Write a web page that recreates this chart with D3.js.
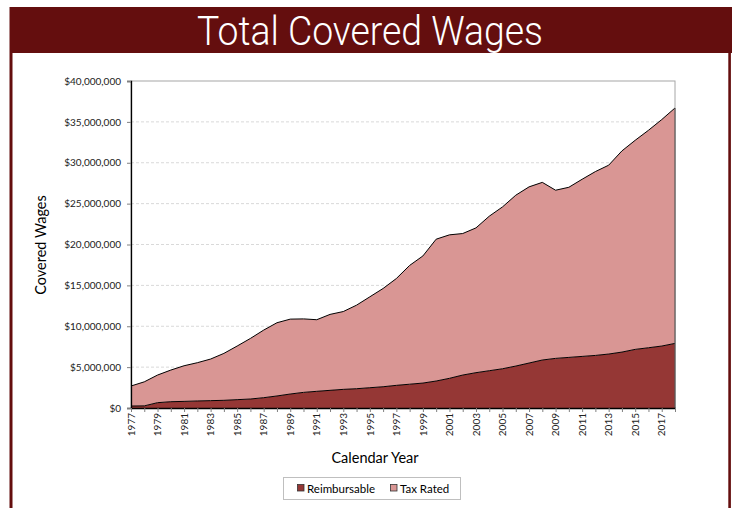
<!DOCTYPE html>
<html>
<head>
<meta charset="utf-8">
<script src="https://cdn.jsdelivr.net/npm/d3@7"></script>
<style>
  html, body { margin: 0; padding: 0; background: #fff; }
  svg { display: block; }
</style>
</head>
<body>
<svg id="chart" width="732" height="508"></svg>
<script>
const years = d3.range(1977, 2019);
const reimbursable = [0.24, 0.26, 0.65, 0.77, 0.81, 0.86, 0.90, 0.94, 1.02, 1.10,
  1.26, 1.47, 1.71, 1.91, 2.04, 2.16, 2.28, 2.36, 2.48, 2.60,
  2.77, 2.91, 3.05, 3.30, 3.63, 4.03, 4.32, 4.56, 4.80, 5.13,
  5.50, 5.87, 6.07, 6.19, 6.31, 6.43, 6.60, 6.84, 7.17, 7.37,
  7.58, 7.90].map(v => v * 1e6);
const totalWages = [2.69, 3.20, 4.03, 4.64, 5.17, 5.54, 5.99, 6.68, 7.58, 8.51,
  9.53, 10.43, 10.87, 10.90, 10.80, 11.45, 11.80, 12.58, 13.60, 14.62,
  15.84, 17.44, 18.60, 20.65, 21.18, 21.34, 22.03, 23.46, 24.60, 26.03,
  27.05, 27.60, 26.64, 27.00, 27.98, 28.92, 29.70, 31.45, 32.75, 33.97,
  35.28, 36.70].map(v => v * 1e6);
const taxRated = totalWages.map((t, i) => t - reimbursable[i]);
const yTicks = d3.range(0, 40000001, 5000000);
const seriesNames = ["Reimbursable", "Tax Rated"];
const seriesColors = ["#953735", "#D99694"];

const svg = d3.select("#chart");
const H = 508;
const font = "Lato, 'Open Sans', sans-serif";

// frame
svg.append("rect").attr("x", 10).attr("y", 7).attr("width", 722).attr("height", 46).attr("fill", "#640E0E");
svg.append("rect").attr("x", 9.5).attr("y", 7).attr("width", 3).attr("height", H).attr("fill", "#640E0E");
svg.append("rect").attr("x", 728.3).attr("y", 53).attr("width", 2.6).attr("height", H).attr("fill", "#640E0E");
svg.append("text").attr("x", 370).attr("y", 45).attr("text-anchor", "middle")
  .attr("fill", "#fff").attr("font-family", "Roboto, 'Open Sans', sans-serif").attr("font-weight", 300)
  .attr("font-size", 40)
  .attr("textLength", 346).attr("lengthAdjust", "spacingAndGlyphs")
  .text("Total Covered Wages");

const x0 = 131, x1 = 675, y0 = 408, y1 = 81;
const x = d3.scaleLinear().domain([1977, 2018]).range([x0, x1]);
const y = d3.scaleLinear().domain([0, 40000000]).range([y0, y1]);

// gridlines
svg.append("g").selectAll("line").data(yTicks.filter(t => t > 0 && t < 40000000)).join("line")
  .attr("x1", x0).attr("x2", x1).attr("y1", d => y(d)).attr("y2", d => y(d))
  .attr("stroke", "#d9d9d9").attr("stroke-width", 1).attr("stroke-dasharray", "3,2");

// plot border
svg.append("rect").attr("x", x0).attr("y", y1).attr("width", x1 - x0).attr("height", y0 - y1)
  .attr("fill", "none").attr("stroke", "#a6a6a6").attr("stroke-width", 1);

const data = years.map((yr, i) => ({ yr, r: reimbursable[i], t: taxRated[i] }));
const stack = d3.stack().keys(["r", "t"])(data);

const area = d3.area().x(d => x(d.data.yr)).y0(d => y(d[0])).y1(d => y(d[1]));
const topLine = d3.line().x(d => x(d.data.yr)).y(d => y(d[1]));

svg.append("g").selectAll("path").data(stack).join("path")
  .attr("d", area).attr("fill", (d, i) => seriesColors[i]);
svg.append("g").selectAll("path").data(stack).join("path")
  .attr("d", topLine).attr("fill", "none").attr("stroke", "#000").attr("stroke-width", 1);
// right edge
svg.append("line").attr("x1", x1).attr("x2", x1).attr("y1", y(totalWages[totalWages.length - 1])).attr("y2", y0)
  .attr("stroke", "#595959").attr("stroke-width", 1.2);

// y axis
const yAxis = d3.axisLeft(y).tickValues(yTicks).tickSize(4).tickPadding(6)
  .tickFormat(d => "$" + d3.format(",")(d));
const gy = svg.append("g").attr("transform", `translate(${x0},0)`).call(yAxis);
gy.select(".domain").attr("stroke", "#000").attr("stroke-width", 1.3);
gy.selectAll(".tick line").attr("stroke", "#808080");
gy.selectAll(".tick text").attr("font-family", font).attr("font-size", 10).attr("fill", "#222");

// x axis
const xAxis = d3.axisBottom(x).tickValues(years).tickSize(4).tickSizeOuter(0)
  .tickFormat(d => (d % 2 === 1 ? String(d) : ""));
const gx = svg.append("g").attr("transform", `translate(0,${y0})`).call(xAxis);
gx.select(".domain").attr("stroke", "#000").attr("stroke-width", 1.3);
gx.selectAll(".tick line").attr("stroke", "#808080");
gx.selectAll(".tick text").attr("font-family", font).attr("font-size", 10).attr("fill", "#222")
  .attr("transform", "rotate(-90)").attr("text-anchor", "end").attr("dx", "-5")
  .attr("y", 0).attr("x", 0).attr("dy", "0.32em");

// axis titles
svg.append("text").attr("transform", "translate(46,245) rotate(-90)").attr("text-anchor", "middle")
  .attr("font-family", font).attr("font-size", 14.5).attr("fill", "#000").text("Covered Wages");
svg.append("text").attr("x", 375).attr("y", 463).attr("text-anchor", "middle")
  .attr("font-family", font).attr("font-size", 14.5).attr("fill", "#000").text("Calendar Year");

// legend
const lg = svg.append("g");
lg.append("rect").attr("x", 283.5).attr("y", 477.5).attr("width", 177).attr("height", 22)
  .attr("fill", "#fff").attr("stroke", "#bfbfbf");
const legendX = [297.5, 390.5];
seriesNames.forEach((name, i) => {
  lg.append("rect").attr("x", legendX[i]).attr("y", 484.5).attr("width", 6.5).attr("height", 6.5)
    .attr("fill", seriesColors[i]).attr("stroke", "#333").attr("stroke-width", 0.8);
  lg.append("text").attr("x", legendX[i] + 9.5).attr("y", 492.5).attr("font-family", font)
    .attr("font-size", 11.5).attr("fill", "#000").text(name);
});
</script>
</body>
</html>
